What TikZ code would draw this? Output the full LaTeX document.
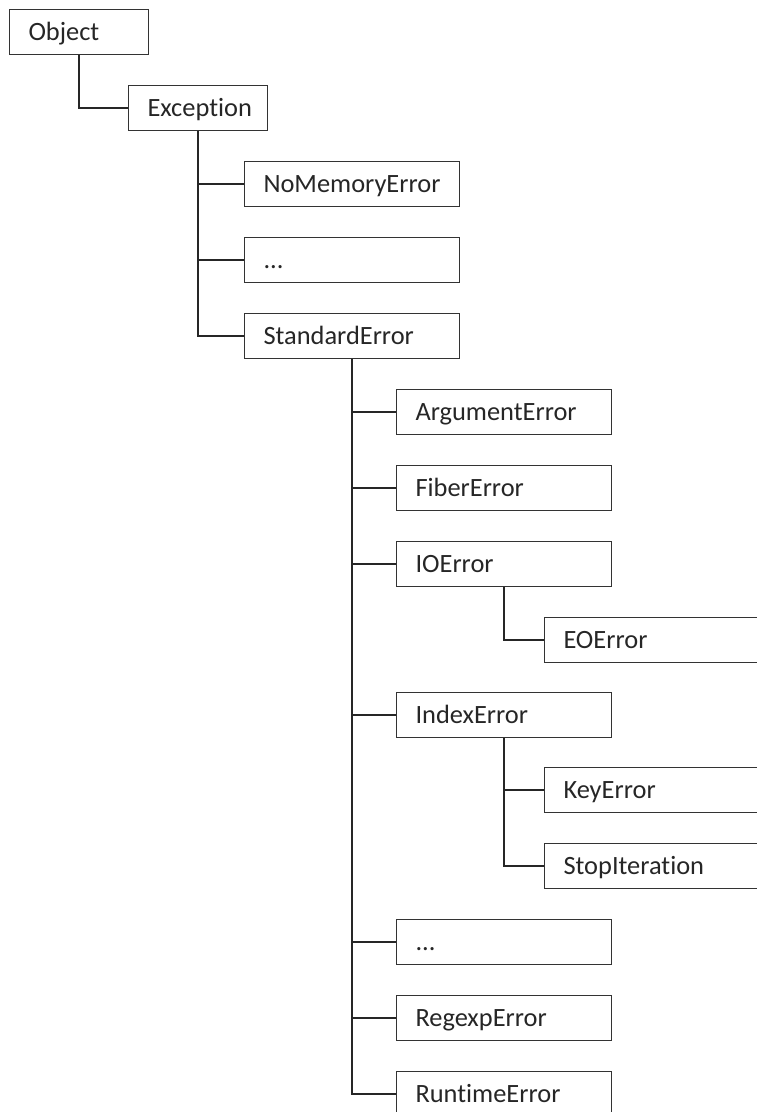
\documentclass[tikz,border=0pt]{standalone}
\usepackage{fontspec}
\setmainfont{Carlito}[RawFeature={-liga;-dlig}]
\begin{document}
\begin{tikzpicture}[x=1bp, y=-1bp,
  cls/.style={draw=black!80, line width=1bp, anchor=north west, inner xsep=19bp, inner ysep=0pt,
    minimum height=45bp, text height=17.4bp, text depth=0pt, align=left, text=black!85,
    font=\fontsize{26.5}{32}\selectfont},
  small/.style={cls, text width=101bp},
  wide/.style={cls, text width=177bp},
  link/.style={draw=black!85, line width=1.1bp}]
\useasboundingbox (0,0) rectangle (757,1112);
\clip (0,0) rectangle (757,1112);

% class boxes
\node[small] (object)    at (9,9)     {Object};
\node[small] (exception) at (128,85)  {Exception};
\node[wide]  (nomem)     at (244,161) {NoMemoryError};
\node[wide]  (dotsA)     at (244,237) {...};
\node[wide]  (stderr)    at (244,313) {StandardError};
\node[wide]  (argerr)    at (396,389) {ArgumentError};
\node[wide]  (fiber)     at (396,465) {FiberError};
\node[wide]  (ioerr)     at (396,541) {IOError};
\node[wide]  (eoerr)     at (544,617) {EOError};
\node[wide]  (indexerr)  at (396,692) {IndexError};
\node[wide]  (keyerr)    at (544,767) {KeyError};
\node[wide]  (stopiter)  at (544,843) {StopIteration};
\node[wide]  (dotsB)     at (396,919) {...};
\node[wide]  (regexp)    at (396,995) {RegexpError};
\node[wide]  (runtime)   at (396,1071) {RuntimeError};

% inheritance links
\draw[link] (object.south) |- (exception.west);
\foreach \c in {nomem, dotsA, stderr}
  \draw[link] (exception.south) |- (\c.west);
\foreach \c in {argerr, fiber, ioerr, indexerr, dotsB, regexp, runtime}
  \draw[link] (stderr.south) |- (\c.west);
\draw[link] (ioerr.south) |- (eoerr.west);
\foreach \c in {keyerr, stopiter}
  \draw[link] (indexerr.south) |- (\c.west);
\end{tikzpicture}
\end{document}
